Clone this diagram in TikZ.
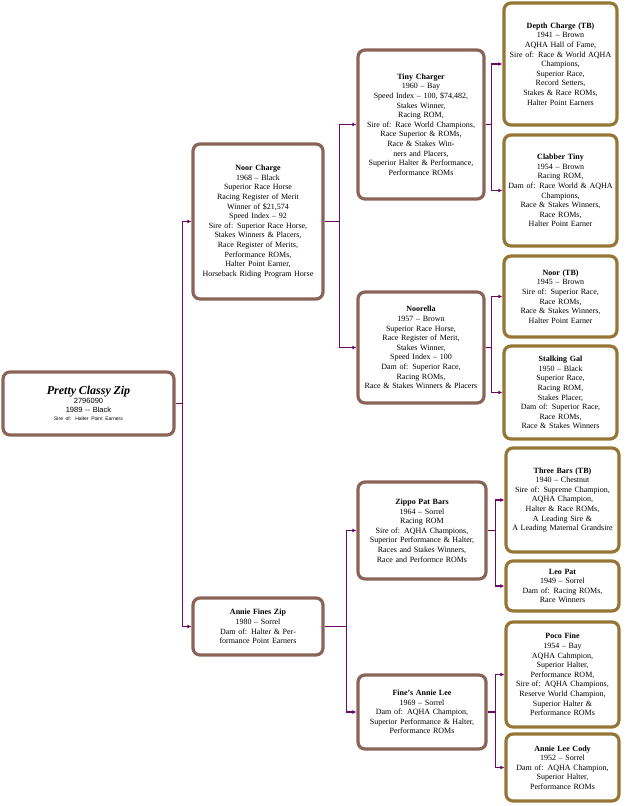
\documentclass[tikz,border=0pt]{standalone}
\usepackage{fontspec}
\setmainfont{Liberation Serif}
\newfontfamily\sansf{Liberation Sans}
\usetikzlibrary{arrows.meta}
\definecolor{boxA}{HTML}{8A6458}
\definecolor{boxB}{HTML}{967636}
\definecolor{link}{HTML}{6A0A66}
\tikzset{
  hb/.style={draw=boxA, line width=3.2pt, rounded corners=7pt, fill=white, align=center, inner sep=1pt, font=\fontsize{8}{9.6}\selectfont},
  hbg/.style={hb, draw=boxB},
  lnk/.style={draw=link, line width=1.2pt, -{Latex[length=4pt,width=4pt]}},
}
\begin{document}
\begin{tikzpicture}[x=1pt,y=-1pt]
\useasboundingbox (0,0) rectangle (625,806);
\def\bx#1#2#3#4#5#6#7{\node[#1, minimum width={#4-#2}, minimum height={#5-#3}, text width={#4-#2-8}] (#6) at ({(#2+#4)/2},{(#3+#5)/2}) {#7};}
\bx{hb}{3}{372}{174}{435}{main}{{\bfseries\itshape\fontsize{12}{13}\selectfont Pretty Classy Zip}\\{\sansf\fontsize{7.5}{9}\selectfont 2796090\\1989 -- Black\\[-1pt]\fontsize{5}{6}\selectfont Sire of: Halter Point Earners}}
\bx{hb}{193}{144}{323}{299}{noor}{\textbf{Noor Charge}\\1968 -- Black\\Superior Race Horse\\Racing Register of Merit\\Winner of \$21,574\\Speed Index -- 92\\Sire of: Superior Race Horse,\\Stakes Winners \& Placers,\\Race Register of Merits,\\Performance ROMs,\\Halter Point Earner,\\Horseback Riding Program Horse}
\bx{hb}{193}{598}{323}{655}{annie}{\textbf{Annie Fines Zip}\\1980 -- Sorrel\\Dam of: Halter \& Performance Point Earners}
\bx{hb}{358}{50}{484}{199}{tiny}{\textbf{Tiny Charger}\\1960 -- Bay\\Speed Index -- 100, \$74,482,\\Stakes Winner,\\Racing ROM,\\Sire of: Race World Champions,\\Race Superior \& ROMs,\\Race \& Stakes Winners and Placers,\\Superior Halter \& Performance,\\Performance ROMs}
\bx{hb}{358}{292}{484}{403}{noorella}{\textbf{Noorella}\\1957 -- Brown\\Superior Race Horse,\\Race Register of Merit,\\Stakes Winner,\\Speed Index -- 100\\Dam of: Superior Race,\\Racing ROMs,\\Race \& Stakes Winners \& Placers}
\bx{hb}{358}{482}{486}{579}{zippo}{\textbf{Zippo Pat Bars}\\1964 -- Sorrel\\Racing ROM\\Sire of: AQHA Champions,\\Superior Performance \& Halter,\\Races and Stakes Winners,\\Race and Performce ROMs}
\bx{hb}{358}{675}{486}{749}{fines}{\textbf{Fine's Annie Lee}\\1969 -- Sorrel\\Dam of: AQHA Champion,\\Superior Performance \& Halter,\\Performance ROMs}
\bx{hbg}{504}{3}{617}{125}{depth}{\textbf{Depth Charge (TB)}\\1941 -- Brown\\AQHA Hall of Fame,\\Sire of: Race \& World AQHA\\Champions,\\Superior Race,\\Record Setters,\\Stakes \& Race ROMs,\\Halter Point Earners}
\bx{hbg}{504}{135}{617}{246}{clabber}{\textbf{Clabber Tiny}\\1954 -- Brown\\Racing ROM,\\Dam of: Race World \& AQHA\\Champions,\\Race \& Stakes Winners,\\Race ROMs,\\Halter Point Earner}
\bx{hbg}{504}{256}{617}{337}{noortb}{\textbf{Noor (TB)}\\1945 -- Brown\\Sire of: Superior Race,\\Race ROMs,\\Race \& Stakes Winners,\\Halter Point Earner}
\bx{hbg}{504}{346}{617}{439}{stalking}{\textbf{Stalking Gal}\\1950 -- Black\\Superior Race,\\Racing ROM,\\Stakes Placer,\\Dam of: Superior Race,\\Race ROMs,\\Race \& Stakes Winners}
\bx{hbg}{506}{448}{619}{552}{three}{\textbf{Three Bars (TB)}\\1940 -- Chestnut\\Sire of: Supreme Champion,\\AQHA Champion,\\Halter \& Race ROMs,\\A Leading Sire \&\\A Leading Maternal Grandsire}
\bx{hbg}{506}{561}{619}{611}{leo}{\textbf{Leo Pat}\\1949 -- Sorrel\\Dam of: Racing ROMs,\\Race Winners}
\bx{hbg}{506}{622}{619}{727}{poco}{\textbf{Poco Fine}\\1954 -- Bay\\AQHA Cahmpion,\\Superior Halter,\\Performance ROM,\\Sire of: AQHA Champions,\\Reserve World Champion,\\Superior Halter \&\\Performance ROMs}
\bx{hbg}{506}{734}{619}{801}{cody}{\textbf{Annie Lee Cody}\\1952 -- Sorrel\\Dam of: AQHA Champion,\\Superior Halter,\\Performance ROMs}
\def\fam#1#2#3#4{\draw[lnk] (#1.east) -- ++(#2,0) |- (#3.west); \draw[lnk] (#1.east) -- ++(#2,0) |- (#4.west);}
\fam{main}{7}{noor}{annie}
\fam{noor}{15}{tiny}{noorella}
\fam{annie}{22}{zippo}{fines}
\fam{tiny}{6}{depth}{clabber}
\fam{noorella}{6}{noortb}{stalking}
\fam{zippo}{8}{three}{leo}
\fam{fines}{8}{poco}{cody}
\end{tikzpicture}
\end{document}
